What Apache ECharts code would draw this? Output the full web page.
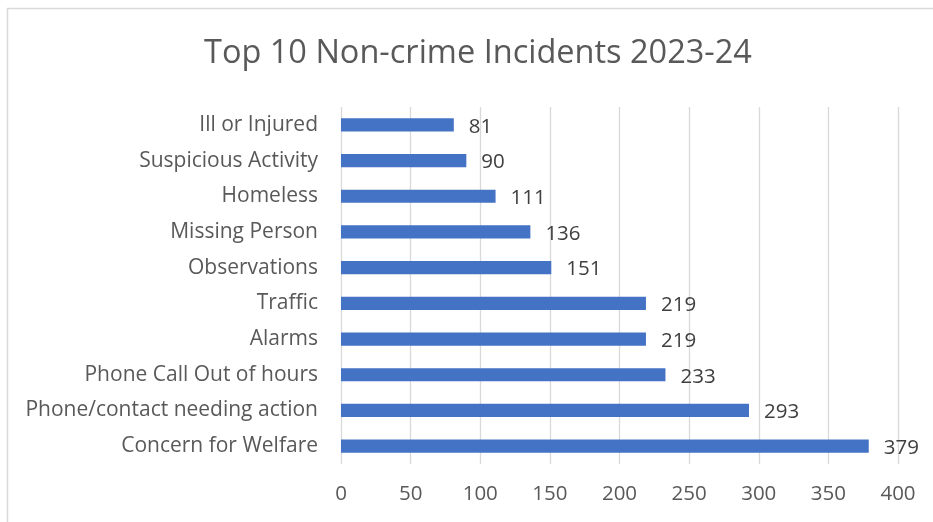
<!DOCTYPE html>
<html><head><meta charset="utf-8">
<script src="https://cdn.jsdelivr.net/npm/echarts@6/dist/echarts.min.js"></script>
<style>html,body{margin:0;padding:0;background:#fff}#c{width:933px;height:522px}</style>
</head><body><div id="c"></div>
<script>
const categories = ["Concern for Welfare","Phone/contact needing action","Phone Call Out of hours","Alarms","Traffic","Observations","Missing Person","Homeless","Suspicious Activity","Ill or Injured"];
const values = [379,293,233,219,219,151,136,111,90,81];
const xTicks = [0,50,100,150,200,250,300,350,400];
const titleText = "Top 10 Non-crime Incidents 2023-24";
const FONT = "Open Sans";
const chart = echarts.init(document.getElementById('c'), null, {renderer:'canvas'});
chart.setOption({
  animation:false,
  backgroundColor:'#fff',
  textStyle:{fontFamily:FONT},
  title:{text:titleText,left:199,top:32,textStyle:{fontFamily:FONT,fontSize:32.5,fontWeight:'normal',color:'#595959'}},
  graphic:[{type:'rect',shape:{x:7.5,y:8.5,width:1000,height:1000},style:{fill:'none',stroke:'#d9d9d9',lineWidth:1.5},silent:true}],
  grid:{left:341,right:35,top:107,bottom:58,containLabel:false},
  xAxis:{type:'value',min:0,max:400,interval:50,
    axisLine:{show:false},axisTick:{show:false},
    splitLine:{lineStyle:{color:'#d9d9d9',width:1.3}},
    axisLabel:{fontSize:20.5,color:'#595959',margin:20,fontFamily:FONT}},
  yAxis:{type:'category',data:categories,
    axisLine:{show:false},axisTick:{show:false},
    axisLabel:{fontSize:21,color:'#595959',margin:23,fontFamily:FONT,padding:[3,0,0,0]}},
  series:[{type:'bar',data:values,barWidth:'37%',itemStyle:{color:'#4472C4'},
    label:{show:true,position:'right',distance:15,fontSize:20.5,color:'#404040',fontFamily:FONT,offset:[0,2]}}]
});
</script></body></html>
